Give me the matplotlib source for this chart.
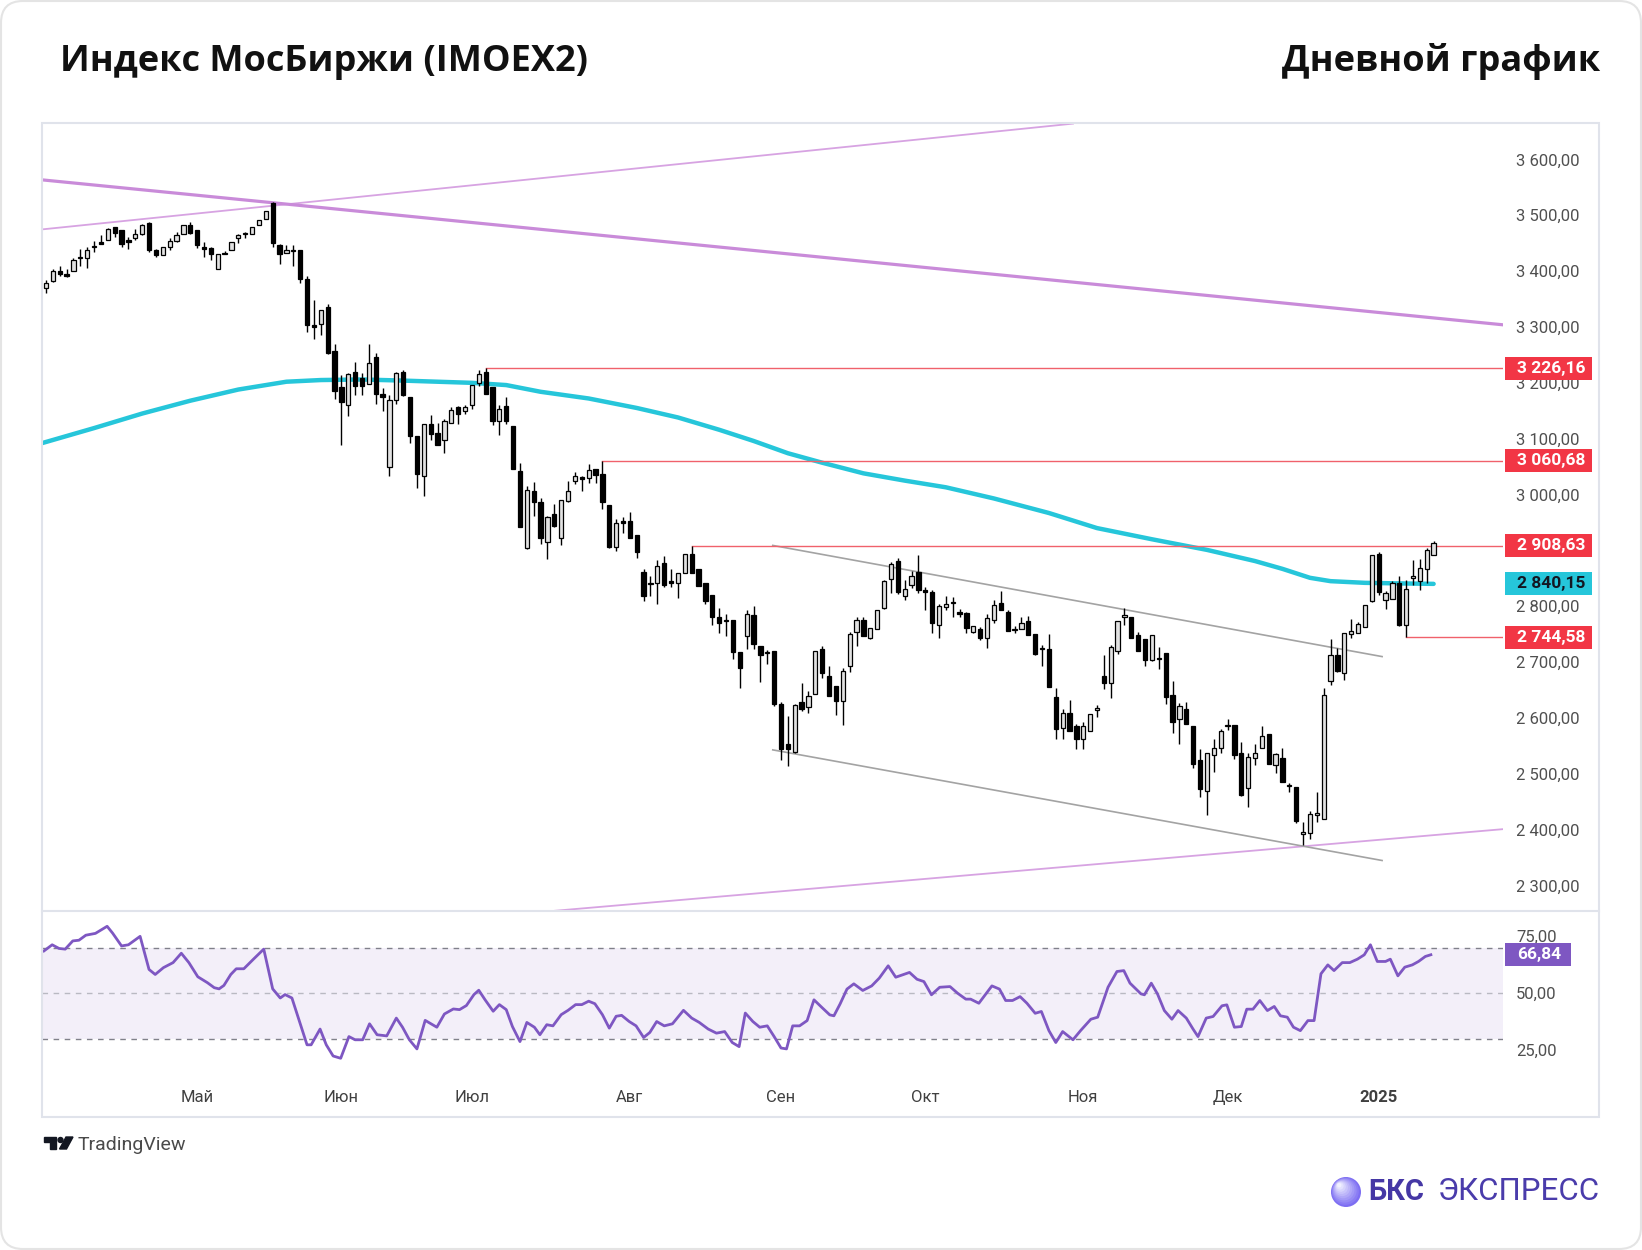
import numpy as np
import matplotlib
matplotlib.use("Agg")
import matplotlib.pyplot as plt
from matplotlib.patches import Rectangle, FancyBboxPatch, Circle, Polygon
from matplotlib.lines import Line2D
from matplotlib.transforms import blended_transform_factory, IdentityTransform

plt.rcParams["font.family"] = ["Roboto", "DejaVu Sans"]

# daily candles, IMOEX2, early Apr 2024 .. mid Jan 2025 (index = trading day)
opens = [3369, 3382, 3400, 3395, 3400, 3423, 3424, 3443, 3452, 3456,
         3479, 3474, 3456, 3460, 3466, 3486, 3438, 3428, 3443, 3454,
         3467, 3482, 3473, 3444, 3442, 3403, 3431, 3437, 3460, 3466,
         3466, 3482, 3494, 3522, 3446, 3432, 3436, 3438, 3386, 3303,
         3305, 3335, 3257, 3192, 3160, 3219, 3208, 3198, 3247, 3180,
         3049, 3170, 3220, 3174, 3105, 3034, 3126, 3110, 3098, 3129,
         3156, 3150, 3160, 3199, 3220, 3193, 3131, 3159, 3123, 3043,
         2905, 3006, 2986, 2915, 2965, 2922, 2988, 3024, 3032, 3029,
         3045, 3037, 2982, 2907, 2952, 2952, 2928, 2861, 2840, 2841,
         2878, 2845, 2841, 2860, 2893, 2867, 2841, 2821, 2781, 2773,
         2775, 2718, 2747, 2784, 2729, 2717, 2720, 2625, 2553, 2540,
         2629, 2619, 2643, 2724, 2675, 2657, 2631, 2694, 2754, 2776,
         2744, 2759, 2797, 2849, 2881, 2819, 2839, 2861, 2830, 2825,
         2766, 2799, 2806, 2789, 2788, 2754, 2760, 2744, 2775, 2806,
         2790, 2757, 2759, 2774, 2751, 2724, 2724, 2637, 2583, 2609,
         2585, 2562, 2577, 2614, 2676, 2662, 2720, 2781, 2781, 2748,
         2741, 2704, 2707, 2716, 2641, 2598, 2617, 2585, 2524, 2470,
         2533, 2546, 2585, 2587, 2537, 2474, 2528, 2547, 2571, 2516,
         2528, 2481, 2476, 2393, 2395, 2426, 2420, 2666, 2712, 2680,
         2751, 2753, 2763, 2809, 2894, 2812, 2813, 2841, 2766, 2851,
         2845, 2867, 2892]
highs = [3384, 3403, 3410, 3403, 3424, 3440, 3443, 3454, 3464, 3477,
         3479, 3474, 3461, 3476, 3485, 3488, 3440, 3443, 3460, 3470,
         3482, 3488, 3473, 3452, 3443, 3430, 3436, 3452, 3467, 3470,
         3479, 3492, 3507, 3524, 3449, 3446, 3446, 3438, 3392, 3348,
         3330, 3342, 3270, 3214, 3217, 3238, 3217, 3269, 3254, 3190,
         3178, 3220, 3223, 3174, 3105, 3126, 3143, 3128, 3135, 3156,
         3159, 3160, 3197, 3223, 3226.16, 3193, 3160, 3175, 3123, 3057,
         3015, 3022, 2994, 2961, 2984, 2991, 3024, 3041, 3034, 3055,
         3045, 3060.68, 2982, 2956, 2960, 2968, 2928, 2866, 2854, 2882,
         2890, 2866, 2860, 2894, 2908.63, 2867, 2841, 2821, 2797, 2787,
         2775, 2718, 2794, 2800, 2729, 2722, 2720, 2628, 2604, 2626,
         2663, 2649, 2720, 2729, 2693, 2657, 2689, 2754, 2781, 2781,
         2761, 2794, 2847, 2879, 2887, 2847, 2863, 2891, 2834, 2830,
         2805, 2818, 2817, 2796, 2790, 2764, 2763, 2787, 2811, 2827,
         2793, 2765, 2781, 2783, 2751, 2731, 2751, 2653, 2616, 2633,
         2590, 2593, 2607, 2624, 2712, 2730, 2773, 2797, 2781, 2754,
         2741, 2748, 2728, 2716, 2666, 2627, 2628, 2585, 2544, 2537,
         2562, 2581, 2599, 2587, 2558, 2538, 2553, 2586, 2571, 2538,
         2547, 2484, 2476, 2414, 2434, 2468, 2653, 2741, 2726, 2753,
         2778, 2772, 2803, 2891, 2898, 2827, 2845, 2855, 2847, 2882,
         2884, 2904, 2916]
lows = [3361, 3380, 3392, 3390, 3400, 3409, 3406, 3434, 3448, 3456,
        3461, 3444, 3440, 3455, 3464, 3434, 3425, 3428, 3438, 3452,
        3467, 3467, 3442, 3425, 3420, 3403, 3430, 3437, 3450, 3460,
        3466, 3482, 3494, 3444, 3412, 3432, 3410, 3379, 3291, 3278,
        3285, 3251, 3171, 3089, 3141, 3178, 3178, 3198, 3163, 3150,
        3034, 3163, 3176, 3092, 3012, 2998, 3098, 3089, 3075, 3128,
        3126, 3145, 3154, 3194, 3180, 3125, 3107, 3126, 3046, 2942,
        2902, 2961, 2912, 2884, 2942, 2910, 2986, 3019, 3006, 3021,
        3021, 2974, 2905, 2899, 2931, 2922, 2887, 2809, 2818, 2805,
        2835, 2835, 2815, 2860, 2860, 2836, 2805, 2766, 2752, 2747,
        2706, 2653, 2723, 2724, 2665, 2696, 2622, 2524, 2515, 2538,
        2613, 2609, 2643, 2672, 2640, 2605, 2587, 2683, 2729, 2746,
        2741, 2759, 2795, 2824, 2822, 2811, 2833, 2824, 2794, 2753,
        2744, 2794, 2781, 2780, 2753, 2752, 2740, 2726, 2770, 2795,
        2756, 2752, 2759, 2748, 2712, 2693, 2655, 2563, 2562, 2577,
        2544, 2544, 2577, 2602, 2652, 2635, 2715, 2766, 2744, 2720,
        2694, 2702, 2688, 2626, 2573, 2553, 2589, 2510, 2458, 2427,
        2503, 2537, 2578, 2527, 2460, 2440, 2516, 2547, 2518, 2502,
        2485, 2468, 2413, 2373, 2383, 2414, 2420, 2660, 2682, 2668,
        2744, 2753, 2763, 2807, 2821, 2795, 2813, 2765, 2744.58, 2839,
        2829, 2841, 2892]
closes = [3379, 3400, 3394, 3392, 3420, 3425, 3438, 3445, 3449, 3476,
          3468, 3449, 3452, 3466, 3482, 3437, 3428, 3443, 3453, 3464,
          3482, 3468, 3446, 3440, 3431, 3430, 3433, 3452, 3465, 3467,
          3479, 3492, 3507, 3450, 3431, 3438, 3438, 3386, 3303, 3300,
          3330, 3253, 3186, 3166, 3216, 3194, 3194, 3236, 3180, 3175,
          3170, 3217, 3178, 3104, 3037, 3126, 3109, 3089, 3132, 3151,
          3144, 3156, 3197, 3216, 3180, 3131, 3154, 3131, 3046, 2942,
          3009, 2986, 2922, 2960, 2944, 2990, 3006, 3034, 3028, 3044,
          3035, 2986, 2907, 2949, 2949, 2922, 2897, 2818, 2842, 2872,
          2839, 2841, 2859, 2894, 2860, 2836, 2809, 2781, 2771, 2775,
          2718, 2690, 2787, 2732, 2712, 2719, 2626, 2544, 2544, 2623,
          2616, 2640, 2720, 2680, 2640, 2631, 2684, 2751, 2776, 2746,
          2761, 2794, 2845, 2876, 2825, 2831, 2855, 2830, 2825, 2770,
          2801, 2805, 2808, 2786, 2762, 2764, 2744, 2779, 2803, 2794,
          2756, 2760, 2771, 2748, 2714, 2726, 2656, 2580, 2609, 2577,
          2562, 2585, 2607, 2618, 2662, 2728, 2773, 2785, 2744, 2720,
          2704, 2748, 2705, 2638, 2593, 2622, 2589, 2518, 2473, 2537,
          2547, 2577, 2587, 2533, 2462, 2530, 2537, 2568, 2518, 2535,
          2485, 2478, 2415, 2396, 2428, 2430, 2641, 2712, 2684, 2752,
          2755, 2768, 2803, 2891, 2825, 2823, 2841, 2766, 2831, 2855,
          2869, 2901, 2914]

# 200-day moving average
ma_idx = [-0.6, 7, 14, 21, 28, 35, 40, 46, 52, 57, 62, 67, 72, 79, 86, 92, 98,
          103, 108, 113, 119, 125, 131, 138, 146, 153, 161, 169, 176, 180, 184,
          187, 192, 197, 202]
ma_val = [3092, 3119, 3145, 3168, 3188, 3202, 3205, 3206, 3204, 3202, 3200, 3196,
          3184, 3172, 3155, 3138, 3116, 3096, 3074, 3057, 3038, 3025, 3013, 2993,
          2967, 2940, 2920, 2901, 2881, 2867, 2851, 2845, 2842, 2841, 2840.15]

# RSI(14)
rsi_idx = [-0.3, 0.9, 1.9, 2.8, 3.9, 4.8, 5.8, 7.2, 8.9, 9.7, 11.0, 12.0, 13.7, 15.0,
           15.9, 17.1, 18.5, 19.7, 20.8, 22.1, 23.5, 24.5, 25.2, 25.9, 26.9, 27.7,
           28.8, 30.2, 31.7, 33.0, 34.1, 34.8, 35.8, 38.0, 38.6, 39.9, 40.8, 41.8,
           42.9, 44.1, 45.0, 46.1, 47.1, 48.2, 49.6, 51.0, 51.9, 52.9, 54.0, 55.2,
           56.9, 58.0, 59.3, 60.2, 61.2, 62.3, 63.0, 63.9, 65.1, 66.0, 67.0, 67.9,
           69.0, 70.0, 71.1, 71.9, 72.9, 73.8, 75.0, 76.0, 77.1, 78.0, 79.0, 79.9,
           81.0, 82.0, 83.0, 83.8, 84.9, 85.9, 87.0, 87.9, 88.9, 90.0, 91.2, 92.8,
           94.0, 95.1, 96.4, 97.6, 98.8, 99.9, 100.9, 101.8, 102.9, 103.9, 105.0,
           106.0, 107.0, 107.8, 108.7, 109.7, 110.8, 111.8, 112.9, 114.1, 114.7,
           115.6, 116.6, 117.6, 118.9, 120.2, 121.3, 122.6, 123.7, 125.7, 126.8,
           127.8, 128.9, 130.1, 131.6, 132.7, 133.9, 134.6, 135.8, 137.7, 138.8,
           139.7, 140.7, 141.8, 142.8, 144.0, 144.9, 146.0, 147.0, 148.0, 149.5,
           150.6, 152.1, 153.1, 154.6, 155.9, 156.9, 157.8, 159.4, 159.9, 160.9,
           161.8, 162.8, 163.9, 164.8, 166.0, 167.0, 167.7, 168.9, 169.9, 171.2,
           171.9, 173.0, 174.0, 174.8, 175.7, 176.7, 177.8, 178.8, 179.7, 180.7,
           181.6, 182.6, 183.7, 184.6, 185.6, 186.6, 187.5, 188.7, 189.8, 190.9,
           191.9, 192.8, 193.8, 195.0, 195.7, 196.8, 197.8, 198.9, 199.8, 200.8,
           201.6]
rsi_val = [68.5, 71.2, 69.6, 69.3, 72.9, 73.2, 75.4, 76.2, 79.3, 76.3, 70.7, 71.2, 74.9,
           60.4, 58.2, 61.2, 63.4, 67.5, 63.4, 57.2, 54.6, 52.4, 51.9, 53.4, 58.2, 60.7,
           60.7, 64.9, 69.3, 51.9, 47.9, 49.4, 47.9, 27.4, 27.4, 34.3, 27.4, 22.5, 21.5,
           31.0, 29.6, 29.6, 36.6, 31.8, 31.3, 39.1, 35.1, 29.6, 25.6, 38.1, 35.1, 40.9,
           43.1, 42.8, 44.6, 49.4, 51.3, 47.2, 42.1, 45.0, 42.8, 35.4, 28.8, 37.2, 35.1,
           31.8, 36.2, 35.7, 40.6, 42.5, 45.0, 45.0, 46.5, 45.4, 40.6, 34.7, 39.9, 40.3,
           37.6, 35.7, 30.6, 32.8, 37.6, 35.7, 36.6, 42.5, 39.1, 37.2, 34.3, 32.5, 33.2,
           28.4, 26.6, 41.3, 37.6, 35.1, 35.7, 31.0, 26.0, 25.6, 35.7, 35.7, 38.0, 47.1,
           43.9, 40.5, 40.1, 45.3, 51.8, 54.1, 51.2, 53.2, 56.6, 62.0, 57.0, 59.1, 56.1,
           55.1, 49.3, 52.6, 52.9, 50.0, 47.4, 47.4, 45.6, 53.2, 51.8, 46.8, 46.8, 48.5,
           45.6, 41.2, 42.0, 33.6, 28.4, 33.2, 29.6, 33.6, 38.6, 39.5, 52.6, 59.5, 59.9,
           54.4, 49.7, 49.3, 54.4, 49.7, 42.4, 38.6, 42.4, 39.1, 34.2, 31.0, 39.1, 39.8,
           44.5, 44.9, 35.1, 35.4, 43.0, 43.0, 46.8, 42.4, 44.2, 40.1, 39.5, 35.1, 33.6,
           38.0, 38.0, 58.5, 62.4, 59.9, 63.4, 63.4, 64.9, 66.8, 71.2, 63.9, 63.9, 64.9,
           57.6, 61.4, 62.4, 63.9, 66.1, 66.84]

# drawn trend lines: (x0, y0, x1, y1) in bar index / price
wedge_top = (-0.3, 3475, 149.5, 3664)
long_down = (-0.3, 3563, 212.0, 3304)
wedge_bottom = (74.1, 2255, 212.0, 2401)
chan_top = (105.8, 2909, 194.5, 2710)
chan_bottom = (105.8, 2543, 194.5, 2345)

# horizontal levels: (start bar, price)
levels = [(64, 3226.16), (81, 3060.68), (94, 2908.63), (198, 2744.58)]
ma_last = 2840.15
rsi_last = 66.84

# price scale labels (2 900 sits under the 2 908,63 tag, so it is not shown)
price_ticks = [2300, 2400, 2500, 2600, 2700, 2800, 3000, 3100, 3200, 3300, 3400, 3500, 3600]

month_idx = [22, 43, 62, 85, 107, 128, 151, 172, 194]
month_lbl = ["Май", "Июн", "Июл", "Авг", "Сен", "Окт", "Ноя", "Дек", "2025"]


def fmt(v):
    return f"{v:,.2f}".replace(",", " ").replace(".", ",")


W, H = 1642, 1250
fig = plt.figure(figsize=(W / 100, H / 100), dpi=100)


def fx(px):
    return px / W


def fy(py):
    return 1 - py / H


L, R = 42, 1503
ax = fig.add_axes([fx(L), fy(911), fx(R) - fx(L), fy(122.5) - fy(911)])
rax = fig.add_axes([fx(L), fy(1078.6), fx(R) - fx(L), fy(911) - fy(1078.6)], sharex=ax)

o = np.array(opens)
hi = np.array(highs)
lo = np.array(lows)
c = np.array(closes)
x = np.arange(len(c))
up = c >= o
body_lo = np.minimum(o, c)
body_h = np.maximum(np.abs(c - o), 1.5)

ax.vlines(x, lo, hi, color="black", lw=1.0, zorder=3)
ax.bar(x[up], body_h[up], bottom=body_lo[up], width=0.62, color="#e2e2e2",
       edgecolor="black", linewidth=0.9, zorder=4)
ax.bar(x[~up], body_h[~up], bottom=body_lo[~up], width=0.62, color="black",
       edgecolor="black", linewidth=0.9, zorder=4)

ax.plot(ma_idx, ma_val, color="#26c6da", lw=3.2, solid_capstyle="round", zorder=2)

for ln, col, lw in [(wedge_top, "#d7a3e2", 1.3), (long_down, "#c98bd9", 2.3),
                    (wedge_bottom, "#d7a3e2", 1.3), (chan_top, "#a3a3a3", 1.2),
                    (chan_bottom, "#a3a3a3", 1.2)]:
    ax.plot([ln[0], ln[2]], [ln[1], ln[3]], color=col, lw=lw, zorder=2)

for start, lvl in levels:
    ax.plot([start, 212.1], [lvl, lvl], color="#f0616b", lw=1.0, zorder=2)

ax.set_xlim(-0.58, 212.1)
ax.set_ylim(2254.6, 3666)
ax.yaxis.tick_right()
ax.set_yticks(price_ticks)
ax.set_yticklabels([fmt(v) for v in price_ticks])
ax.tick_params(axis="y", length=0, pad=9.4, labelsize=12, labelcolor="#505050")
ax.tick_params(axis="x", length=0, labelbottom=False)
for s in ax.spines.values():
    s.set_visible(False)

# RSI pane
rax.axhspan(30, 70, color="#7e57c2", alpha=0.09, lw=0)
rax.axhline(70, color="#80808a", lw=1.0, ls=(0, (4, 4)))
rax.axhline(30, color="#80808a", lw=1.0, ls=(0, (4, 4)))
rax.axhline(50, color="#b9b9c2", lw=1.0, ls=(0, (4, 4)))
rax.plot(rsi_idx, rsi_val, color="#7e57c2", lw=2.0, zorder=3)
rax.set_ylim(12.6, 86)
rax.yaxis.tick_right()
rax.set_yticks([25, 50, 75])
rax.set_yticklabels([fmt(v) for v in [25, 50, 75]])
rax.tick_params(axis="y", length=0, pad=9.4, labelsize=12, labelcolor="#505050")
rax.set_xticks(month_idx)
rax.set_xticklabels(month_lbl)
rax.tick_params(axis="x", length=0, pad=8, labelsize=12, labelcolor="#404040")
rax.get_xticklabels()[-1].set_fontweight("bold")
for s in rax.spines.values():
    s.set_visible(False)


def tag(a, y, text, fc, tc, right_px):
    tr = blended_transform_factory(a.transAxes, a.transData)
    y0, y1 = a.get_ylim()
    dh = 23 * (y1 - y0) / (a.get_position().height * H)
    x0 = (1505 - L) / (R - L)
    w = (right_px - 1505) / (R - L)
    a.add_patch(Rectangle((x0, y - dh / 2), w, dh, transform=tr, facecolor=fc,
                          edgecolor="none", clip_on=False, zorder=10))
    a.text(x0 + 0.0082, y, text, transform=tr, ha="left", va="center", color=tc,
           fontsize=12.5, fontweight="bold", clip_on=False, zorder=11)


for _, lvl in levels:
    tag(ax, lvl, fmt(lvl), "#f23645", "white", 1592)
tag(ax, ma_last, fmt(ma_last), "#26c6da", "#131722", 1592)
tag(rax, rsi_last, fmt(rsi_last), "#7e57c2", "white", 1571)

# frame and pane separator
fig.add_artist(Rectangle((fx(42), fy(1117)), fx(1599) - fx(42), fy(122.5) - fy(1117),
                         transform=fig.transFigure, fill=False, edgecolor="#e0e3eb", lw=1.5))
fig.add_artist(Line2D([fx(42), fx(1599)], [fy(911), fy(911)], transform=fig.transFigure,
                      color="#e0e3eb", lw=1.5))

# card outline
fig.add_artist(FancyBboxPatch((1, 1), W - 2, H - 2, boxstyle="round,pad=0,rounding_size=22",
                              transform=IdentityTransform(), fill=False,
                              edgecolor="#e4e4e4", lw=1.5))

head_font = ["Open Sans", "DejaVu Sans"]
fig.text(fx(60), fy(62), "Индекс МосБиржи (IMOEX2)", ha="left", va="center",
         fontsize=26, fontweight="bold", color="#111111", family=head_font)
fig.text(fx(1600), fy(62), "Дневной график", ha="right", va="center",
         fontsize=26, fontweight="bold", color="#111111", family=head_font)

# TradingView mark
tv = IdentityTransform()
fig.add_artist(Polygon([(44, H - 1137), (56, H - 1137), (56, H - 1149), (50, H - 1149),
                        (50, H - 1142), (44, H - 1142)], closed=True, transform=tv,
                       color="#131722"))
fig.add_artist(Circle((60.5, H - 1140), 2.5, transform=tv, color="#131722"))
fig.add_artist(Polygon([(66, H - 1137), (73, H - 1137), (66.5, H - 1149), (59.5, H - 1149)],
                       closed=True, transform=tv, color="#131722"))
fig.text(fx(78), fy(1145), "TradingView", ha="left", va="center", fontsize=14,
         color="#4a4a4a")

# BCS logo
cx, cy, r = 1346, H - 1192, 15
for k in range(10):
    t = k / 9
    col = (0.49 + 0.45 * t, 0.43 + 0.51 * t, 0.95 + 0.05 * t)
    rr = r * (1 - 0.85 * t)
    fig.add_artist(Circle((cx - 0.45 * r * t, cy + 0.45 * r * t), rr, transform=tv,
                          color=col, lw=0))
fig.text(fx(1368), fy(1192), "БКС", ha="left", va="center", fontsize=21,
         fontweight="bold", color="#4537a5")
fig.text(fx(1600), fy(1192), "ЭКСПРЕСС", ha="right", va="center", fontsize=22.5,
         fontweight="normal", color="#4a3cab")

fig.savefig("out.png", dpi=100)
